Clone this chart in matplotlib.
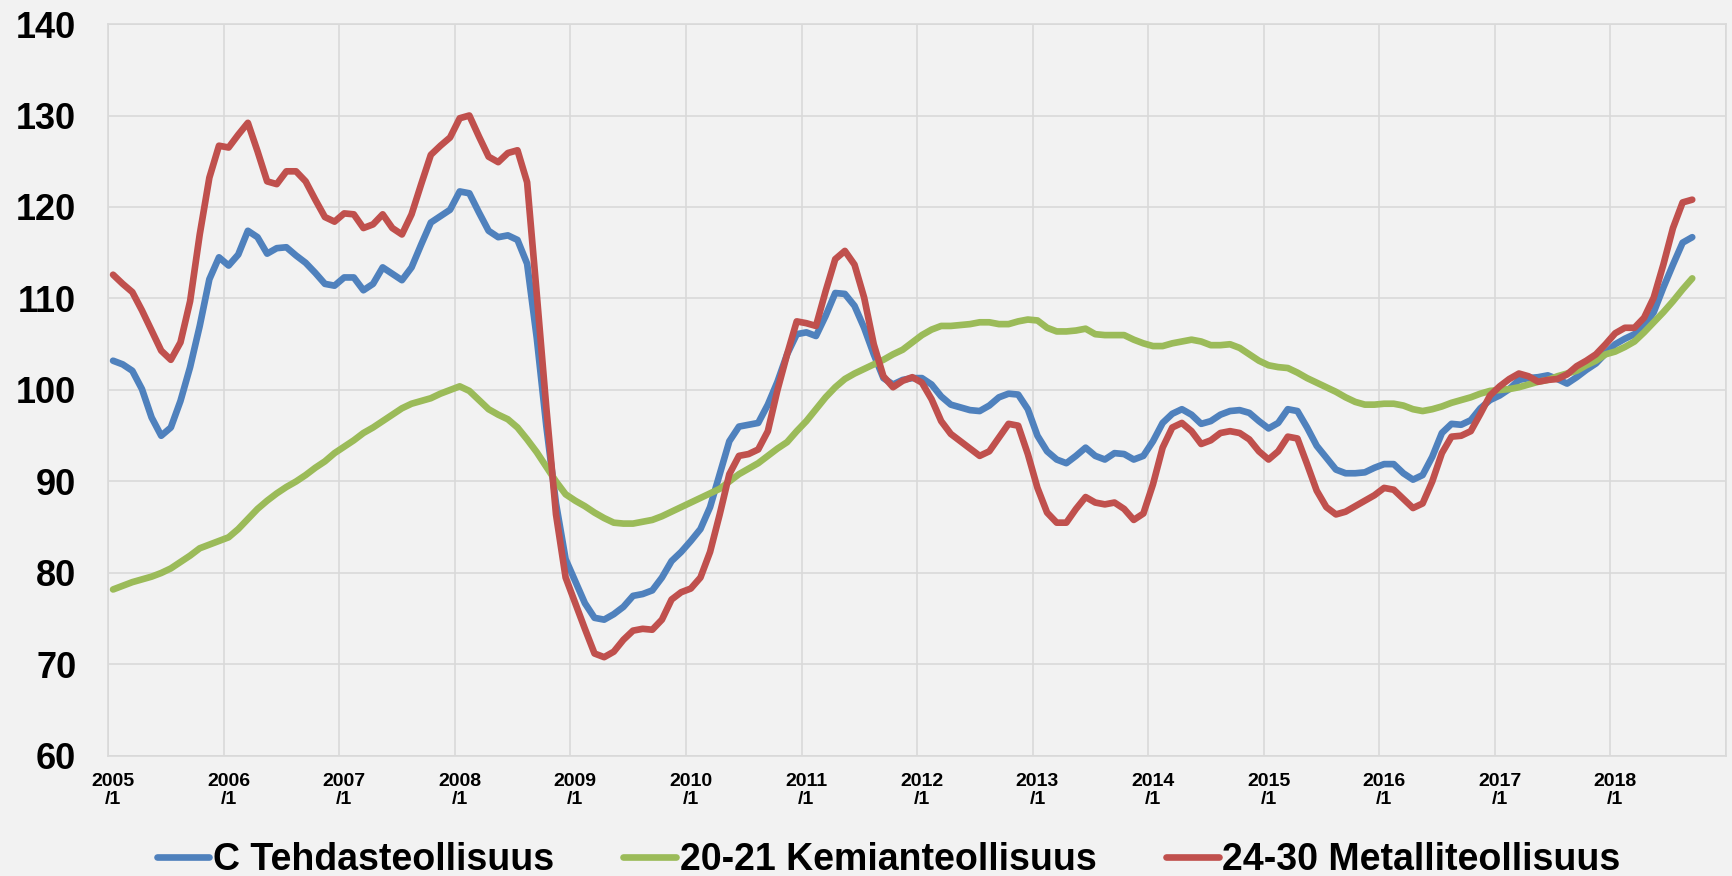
import matplotlib
matplotlib.use("Agg")
import matplotlib.pyplot as plt
import numpy as np

# Teollisuustuotanto, kuukausittain 2005/1 - 2018/9
vuodet = list(range(2005, 2019))

tehdas = [
    103.2, 102.8, 102.1, 100.1, 97.0, 95.0, 95.9, 98.8, 102.5, 107.0, 112.1, 114.5,
    113.6, 114.8, 117.4, 116.7, 114.9, 115.5, 115.6, 114.7, 113.9, 112.8, 111.6, 111.4,
    112.3, 112.3, 110.9, 111.6, 113.4, 112.7, 112.0, 113.4, 115.9, 118.3, 119.0, 119.7,
    121.7, 121.5, 119.4, 117.4, 116.7, 116.9, 116.4, 113.8, 105.7, 96.0, 87.6, 81.5,
    79.1, 76.7, 75.1, 74.9, 75.5, 76.3, 77.5, 77.7, 78.1, 79.5, 81.3, 82.3,
    83.5, 84.8, 87.2, 90.8, 94.4, 96.0, 96.2, 96.4, 98.4, 100.9, 103.9, 106.1,
    106.3, 105.9, 108.1, 110.6, 110.5, 109.2, 106.8, 103.9, 101.3, 100.6, 101.1, 101.3,
    101.3, 100.6, 99.3, 98.4, 98.1, 97.8, 97.7, 98.3, 99.2, 99.6, 99.5, 97.9,
    95.0, 93.3, 92.4, 92.0, 92.8, 93.7, 92.8, 92.4, 93.1, 93.0, 92.4, 92.8,
    94.4, 96.4, 97.4, 97.9, 97.3, 96.3, 96.6, 97.3, 97.7, 97.8, 97.5, 96.6,
    95.8, 96.4, 97.9, 97.7, 95.9, 93.9, 92.6, 91.3, 90.9, 90.9, 91.0, 91.5,
    91.9, 91.9, 90.9, 90.2, 90.7, 92.7, 95.3, 96.3, 96.2, 96.7, 98.0, 98.9,
    99.4, 100.1, 101.1, 101.3, 101.4, 101.6, 101.2, 100.7, 101.4, 102.2, 102.9, 104.0,
    105.0, 105.6, 106.1, 107.0, 108.5, 111.2, 113.7, 116.1, 116.7,
]

kemia = [
    78.2, 78.6, 79.0, 79.3, 79.6, 80.0, 80.5, 81.2, 81.9, 82.7, 83.1, 83.5,
    83.9, 84.8, 85.9, 87.0, 87.9, 88.7, 89.4, 90.0, 90.7, 91.5, 92.2, 93.1,
    93.8, 94.5, 95.3, 95.9, 96.6, 97.3, 98.0, 98.5, 98.8, 99.1, 99.6, 100.0,
    100.4, 99.9, 98.9, 97.9, 97.3, 96.8, 95.9, 94.6, 93.2, 91.6, 90.0, 88.6,
    87.9, 87.3, 86.6, 86.0, 85.5, 85.4, 85.4, 85.6, 85.8, 86.2, 86.7, 87.2,
    87.7, 88.2, 88.7, 89.2, 90.0, 90.8, 91.4, 92.0, 92.8, 93.6, 94.3, 95.5,
    96.6, 97.9, 99.2, 100.3, 101.2, 101.8, 102.3, 102.8, 103.3, 103.9, 104.4, 105.2,
    106.0, 106.6, 107.0, 107.0, 107.1, 107.2, 107.4, 107.4, 107.2, 107.2, 107.5, 107.7,
    107.6, 106.8, 106.4, 106.4, 106.5, 106.7, 106.1, 106.0, 106.0, 106.0, 105.5, 105.1,
    104.8, 104.8, 105.1, 105.3, 105.5, 105.3, 104.9, 104.9, 105.0, 104.6, 103.9, 103.2,
    102.7, 102.5, 102.4, 101.9, 101.3, 100.8, 100.3, 99.8, 99.2, 98.7, 98.4, 98.4,
    98.5, 98.5, 98.3, 97.9, 97.7, 97.9, 98.2, 98.6, 98.9, 99.2, 99.6, 99.9,
    100.0, 100.1, 100.3, 100.6, 100.9, 101.1, 101.5, 101.8, 102.1, 102.7, 103.2, 103.9,
    104.2, 104.7, 105.3, 106.3, 107.4, 108.5, 109.7, 111.0, 112.2,
]

metalli = [
    112.6, 111.6, 110.7, 108.7, 106.5, 104.3, 103.3, 105.2, 109.7, 117.0, 123.2, 126.7,
    126.5, 127.9, 129.2, 126.1, 122.8, 122.5, 123.9, 123.9, 122.8, 120.8, 118.9, 118.4,
    119.3, 119.2, 117.7, 118.1, 119.2, 117.7, 117.0, 119.2, 122.5, 125.7, 126.7, 127.6,
    129.7, 130.0, 127.7, 125.5, 124.9, 125.9, 126.2, 122.7, 110.5, 98.0, 86.4, 79.5,
    76.7, 73.9, 71.2, 70.8, 71.4, 72.7, 73.7, 73.9, 73.8, 74.9, 77.1, 77.9,
    78.3, 79.5, 82.3, 86.4, 90.8, 92.8, 93.0, 93.5, 95.5, 100.0, 103.9, 107.5,
    107.3, 107.0, 110.8, 114.3, 115.2, 113.7, 110.1, 105.0, 101.5, 100.3, 101.0, 101.4,
    100.8, 99.0, 96.6, 95.2, 94.4, 93.6, 92.8, 93.3, 94.8, 96.3, 96.1, 93.0,
    89.3, 86.6, 85.5, 85.5, 87.0, 88.3, 87.7, 87.5, 87.7, 87.0, 85.8, 86.5,
    89.7, 93.7, 95.9, 96.4, 95.5, 94.1, 94.5, 95.3, 95.5, 95.3, 94.6, 93.3,
    92.4, 93.3, 94.9, 94.7, 91.9, 89.0, 87.2, 86.4, 86.7, 87.3, 87.9, 88.5,
    89.3, 89.1, 88.1, 87.1, 87.6, 90.0, 93.1, 94.9, 95.0, 95.5, 97.4, 99.4,
    100.4, 101.2, 101.8, 101.5, 100.9, 101.1, 101.2, 101.7, 102.6, 103.2, 103.9, 105.0,
    106.2, 106.8, 106.8, 107.9, 110.1, 113.7, 117.7, 120.5, 120.8,
]

sarjat = [
    ("C Tehdasteollisuus", tehdas, "#4F81BD"),
    ("20-21 Kemianteollisuus", kemia, "#9BBB59"),
    ("24-30 Metalliteollisuus", metalli, "#C0504D"),
]

plt.rcParams["font.family"] = ["Liberation Sans", "DejaVu Sans"]
plt.rcParams["font.weight"] = "bold"

tausta = "#F2F2F2"
harmaa = "#D9D9D9"

fig = plt.figure(figsize=(17.32, 8.76), dpi=100, facecolor=tausta)
ax = fig.add_axes([0.0625, 0.137, 0.934, 0.8356])
ax.set_facecolor(tausta)

kk = np.arange(len(tehdas))
for nimi, arvot, vari in sarjat:
    ax.plot(kk, arvot, color=vari, lw=4.8, label=nimi,
            solid_capstyle="round", solid_joinstyle="round")

n_kat = 12 * len(vuodet)
ax.set_xlim(-0.5, n_kat - 0.5)
ax.set_ylim(60, 140)

ax.set_yticks(np.arange(60, 141, 10))
ax.set_xticks(np.arange(0, n_kat, 12))
ax.set_xticklabels([f"{v}\n/1" for v in vuodet], fontsize=14, fontweight="bold",
                   linespacing=1.1)
ax.set_xticks(np.arange(-0.5, n_kat, 12), minor=True)
for lab in ax.get_yticklabels():
    lab.set_fontsize(26)
    lab.set_fontweight("bold")

ax.tick_params(axis="both", which="both", length=0)
ax.tick_params(axis="y", pad=23)
ax.tick_params(axis="x", pad=12)

ax.grid(axis="y", which="major", color=harmaa, lw=1.2)
ax.grid(axis="x", which="minor", color=harmaa, lw=1.2)
ax.set_axisbelow(True)
for s in ax.spines.values():
    s.set_color(harmaa)
    s.set_linewidth(1.2)

fig.legend(loc="center", bbox_to_anchor=(0.513, 0.018), ncol=3, frameon=False,
           prop={"size": 27, "weight": "bold"}, handlelength=1.41,
           handletextpad=0.1, columnspacing=1.84)

fig.savefig("out.png", dpi=100, facecolor=tausta)
